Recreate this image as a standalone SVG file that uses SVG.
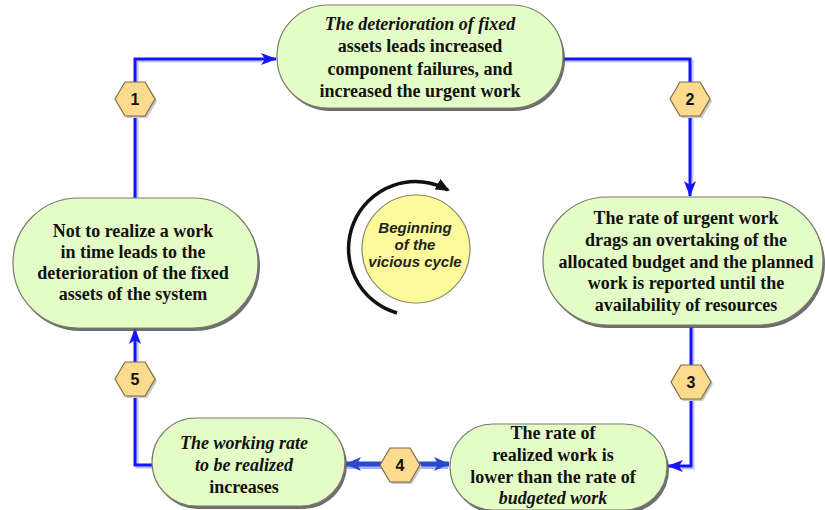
<svg xmlns="http://www.w3.org/2000/svg" width="825" height="510" viewBox="0 0 825 510">
<style>
.node{fill:#e4fcc6;stroke:#7a7a70;stroke-width:1.2}
.shadow{fill:#555;opacity:0.85}
.t{font-weight:bold;font-size:18px;fill:#111;text-anchor:middle}
.i{font-style:italic}
.conn{fill:none;stroke:#1414ff;stroke-width:3}
.halo{fill:none;stroke:#c4c4ff;stroke-width:3}
.hex{fill:#fddb8e;stroke:#7d6b45;stroke-width:1.2}
.hexsh{fill:#c8c8c8}
.num{font-weight:bold;font-size:16px;fill:#111;text-anchor:middle}
.ct{font-weight:bold;font-style:italic;font-size:15px;fill:#222;text-anchor:middle}
</style>
<defs>
<marker id="arr" viewBox="0 0 16 12" refX="15" refY="6" markerWidth="16" markerHeight="12" markerUnits="userSpaceOnUse" orient="auto">
<path d="M0,0 L16,6 L0,12 L4,6 Z" fill="#1414ff"/>
</marker>
<marker id="arr4" viewBox="0 0 16 14" refX="15" refY="7" markerWidth="16" markerHeight="14" markerUnits="userSpaceOnUse" orient="auto-start-reverse">
<path d="M0,0 L16,7 L0,14 L4,7 Z" fill="#2a48d0"/>
</marker>
<marker id="arrk" viewBox="0 0 14 12" refX="12" refY="6" markerWidth="14" markerHeight="12" markerUnits="userSpaceOnUse" orient="auto">
<path d="M0,0 L14,6 L0,12 Z" fill="#111"/>
</marker>
<g id="hexshape">
<polygon class="hexsh" points="-18,2 -8,-15 12,-15 22,2 12,19 -8,19"/>
<polygon class="hex" points="-20,0 -10,-17 10,-17 20,0 10,17 -10,17"/>
</g>
</defs>
<rect width="825" height="510" fill="#ffffff"/>

<g id="connectors">
<path class="halo" d="M137,198 V61 H262" />
<path class="conn" d="M135,198 V59 H276" marker-end="url(#arr)"/>
<path class="halo" d="M563,61 H692 V182"/>
<path class="conn" d="M563,59 H690 V196" marker-end="url(#arr)"/>
<path class="halo" d="M693,327 V468 H682"/>
<path class="conn" d="M691,327 V466 H668" marker-end="url(#arr)"/>
<path class="halo" d="M154,467 H137 V342"/>
<path class="conn" d="M152,465 H135 V329" marker-end="url(#arr)"/>
<path d="M347,466 H448" fill="none" stroke="#a8b4ff" stroke-width="6"/>
<path d="M346,464 H449" fill="none" stroke="#2a48d0" stroke-width="5" marker-start="url(#arr4)" marker-end="url(#arr4)"/>
</g>

<g font-family="Liberation Sans, Arial, sans-serif">
<g id="hex1"><use href="#hexshape" transform="translate(135,99)"/><text class="num" x="135" y="105">1</text></g>
<g id="hex2"><use href="#hexshape" transform="translate(690,99)"/><text class="num" x="690" y="105">2</text></g>
<g id="hex3"><use href="#hexshape" transform="translate(691,382)"/><text class="num" x="691" y="388">3</text></g>
<g id="hex4"><use href="#hexshape" transform="translate(400,465)"/><text class="num" x="400" y="471">4</text></g>
<g id="hex5"><use href="#hexshape" transform="translate(135,379)"/><text class="num" x="135" y="385">5</text></g>
</g>

<g font-family="Liberation Serif, Tinos, Times New Roman, DejaVu Serif, serif">
<g id="node-top">
<rect class="shadow" x="279" y="8" width="286" height="103" rx="51"/>
<rect class="node" x="277" y="5" width="286" height="103" rx="51"/>
<text class="t i" x="420" y="30">The deterioration of fixed</text>
<text class="t" x="420" y="52">assets leads increased</text>
<text class="t" x="420" y="75">component failures, and</text>
<text class="t" x="420" y="97">increased the urgent work</text>
</g>

<g id="node-right">
<rect class="shadow" x="545" y="200" width="280" height="128" rx="64"/>
<rect class="node" x="543" y="197" width="280" height="128" rx="64"/>
<text class="t" x="686" y="224">The rate of urgent work</text>
<text class="t" x="686" y="246">drags an overtaking of the</text>
<text class="t" x="686" y="268">allocated budget and the planned</text>
<text class="t" x="686" y="289">work is reported until the</text>
<text class="t" x="686" y="311">availability of resources</text>
</g>

<g id="node-left">
<rect class="shadow" x="15" y="201" width="245" height="130" rx="65"/>
<rect class="node" x="13" y="198" width="245" height="130" rx="65"/>
<text class="t" x="133" y="237">Not to realize a work</text>
<text class="t" x="133" y="258">in time leads to the</text>
<text class="t" x="133" y="279">deterioration of the fixed</text>
<text class="t" x="133" y="300">assets of the system</text>
</g>

<g id="node-bottom-left">
<rect class="shadow" x="154" y="421" width="193" height="88" rx="44"/>
<rect class="node" x="152" y="418" width="193" height="88" rx="44"/>
<text class="t i" x="244" y="449">The working rate</text>
<text class="t i" x="244" y="471">to be realized</text>
<text class="t" x="244" y="493">increases</text>
</g>

<g id="node-bottom-right">
<rect class="shadow" x="452" y="427" width="217" height="86" rx="43"/>
<rect class="node" x="450" y="424" width="217" height="86" rx="43"/>
<text class="t" x="553" y="439">The rate of</text>
<text class="t" x="553" y="461">realized work is</text>
<text class="t" x="553" y="483">lower than the rate of</text>
<text class="t i" x="553" y="504">budgeted work</text>
</g>
</g>

<g id="center" font-family="Liberation Sans, Arial, sans-serif">
<path d="M397,313 A67,67 0 1 1 448,190" fill="none" stroke="#111" stroke-width="3.5" marker-end="url(#arrk)"/>
<circle cx="416" cy="249" r="54" fill="#fdfa9c" stroke="#8a8a6a" stroke-width="1.2"/>
<text class="ct" x="415" y="233">Beginning</text>
<text class="ct" x="415" y="250">of the</text>
<text class="ct" x="415" y="267">vicious cycle</text>
</g>
</svg>
